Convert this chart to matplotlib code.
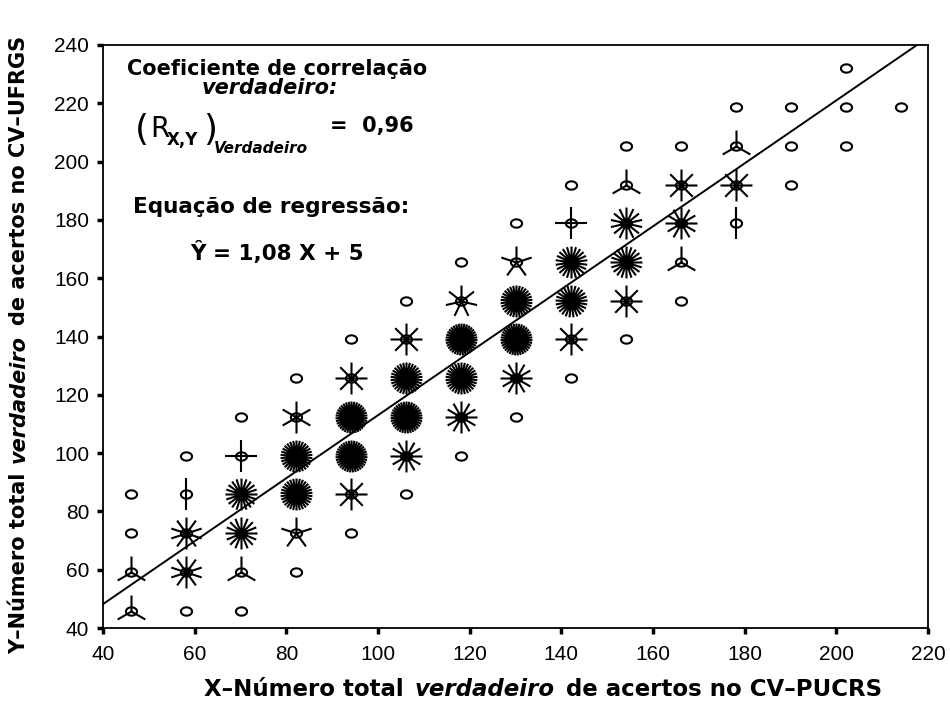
import numpy as np
import matplotlib
matplotlib.use('Agg')
import matplotlib.pyplot as plt
from matplotlib.path import Path

TICK_FONT = ['Liberation Sans', 'DejaVu Sans']
TEXT_FONT = ['DejaVu Sans']

# sunflower cells: x bin, y bin, number of cases (petals)
pt_x = [46, 46, 46, 46,
        58, 58, 58, 58, 58,
        70, 70, 70, 70, 70, 70,
        82, 82, 82, 82, 82, 82,
        94, 94, 94, 94, 94, 94,
        106, 106, 106, 106, 106, 106,
        118, 118, 118, 118, 118, 118,
        130, 130, 130, 130, 130, 130,
        142, 142, 142, 142, 142, 142,
        154, 154, 154, 154, 154, 154,
        166, 166, 166, 166, 166,
        178, 178, 178, 178,
        190, 190, 190,
        202, 202, 202,
        214]
pt_y = [46, 59.3, 72.6, 85.9,
        46, 59.3, 72.6, 85.9, 99.1,
        46, 59.3, 72.6, 85.9, 99.1, 112.4,
        59.3, 72.6, 85.9, 99.1, 112.4, 125.7,
        72.6, 85.9, 99.1, 112.4, 125.7, 139,
        85.9, 99.1, 112.4, 125.7, 139, 152.3,
        99.1, 112.4, 125.7, 139, 152.3, 165.6,
        112.4, 125.7, 139, 152.3, 165.6, 178.9,
        125.7, 139, 152.3, 165.6, 178.9, 192.1,
        139, 152.3, 165.6, 178.9, 192.1, 205.4,
        152.3, 165.6, 178.9, 192.1, 205.4,
        178.9, 192.1, 205.4, 218.7,
        192.1, 205.4, 218.7,
        205.4, 218.7, 232,
        218.7]
pt_n = [3, 3, 1, 1,
        1, 10, 10, 2, 1,
        1, 3, 16, 20, 4, 1,
        1, 5, 30, 30, 6, 1,
        1, 8, 35, 35, 8, 1,
        1, 12, 35, 30, 8, 1,
        1, 12, 30, 35, 7, 1,
        1, 12, 35, 30, 5, 1,
        1, 8, 25, 22, 4, 1,
        1, 8, 20, 14, 3, 1,
        1, 3, 12, 8, 1,
        2, 8, 3, 1,
        1, 1, 1,
        1, 1, 1,
        1]

slope, intercept = 1.08, 5
x_ticks = [40, 60, 80, 100, 120, 140, 160, 180, 200, 220]
y_ticks = [40, 60, 80, 100, 120, 140, 160, 180, 200, 220, 240]

W, H = 950, 706
fig = plt.figure(figsize=(W / 100, H / 100), dpi=100)
ax = fig.add_axes([103 / W, 1 - 628 / H, 825 / W, 583 / H])


def petals(n):
    verts, codes = [], []
    for k in range(n):
        a = np.pi / 2 + 2 * np.pi * k / n
        verts += [(0, 0), (np.cos(a), np.sin(a))]
        codes += [Path.MOVETO, Path.LINETO]
    return Path(verts, codes)


t = np.linspace(0, 2 * np.pi, 41)
ring = Path(np.column_stack([np.cos(t), 0.75 * np.sin(t)]), closed=True)

xa, ya, na = np.array(pt_x), np.array(pt_y), np.array(pt_n)
for n in sorted(set(pt_n)):
    if n < 2:
        continue
    m = na == n
    ax.plot(xa[m], ya[m], ls='none', marker=petals(n), ms=23,
            mew=1.5, mec='black', mfc='none')
ax.plot(xa, ya, ls='none', marker=ring, ms=8, mew=1.5, mec='black', mfc='none')

xl = np.array([40, 220])
ax.plot(xl, slope * xl + intercept, color='black', lw=1.4)

ax.set_xlim(40, 220)
ax.set_ylim(40, 240)
ax.set_xticks(x_ticks)
ax.set_yticks(y_ticks)
ax.tick_params(direction='out', length=4, width=2.5, labelsize=15)
ax.tick_params(axis='x', pad=8)
ax.tick_params(axis='y', pad=6)
for lab in ax.get_xticklabels() + ax.get_yticklabels():
    lab.set_family(TICK_FONT)
for s in ax.spines.values():
    s.set_linewidth(1.3)

renderer = fig.canvas.get_renderer()


def ftext(x, y, s, size, italic=False, bold=True, **kw):
    return fig.text(x / W, 1 - y / H, s, fontsize=size, family=TEXT_FONT,
                    fontweight='bold' if bold else 'normal',
                    fontstyle='italic' if italic else 'normal',
                    va='baseline', ha='left', **kw)


def runs_text(runs, cx, cy, size, gap, rotation=0):
    # text made of bold / bold-italic pieces, centred on (cx, cy) in pixels
    texts = [ftext(0, 0, s, size, italic=it, rotation=rotation,
                   rotation_mode='anchor') for s, it in runs]
    lens = []
    for tx in texts:
        bb = tx.get_window_extent(renderer)
        lens.append(bb.width if rotation == 0 else bb.height)
    total = sum(lens) + gap * (len(runs) - 1)
    pos = -total / 2
    for tx, ln in zip(texts, lens):
        if rotation == 0:
            tx.set_position(((cx + pos) / W, 1 - cy / H))
        else:
            tx.set_position((cx / W, 1 - (cy - pos) / H))
        pos += ln + gap


runs_text([('X–Número total', False), ('verdadeiro', True),
           ('de acertos no CV–PUCRS', False)], 543, 696, 16.5, 11)
runs_text([('Y–Número total', False), ('verdadeiro', True),
           ('de acertos no CV–UFRGS', False)], 25, 345, 15, 10, rotation=90)

# annotation block
ftext(127, 75, 'Coeficiente de correlação', 15)
ftext(202, 94, 'verdadeiro:', 15, italic=True)
ftext(135, 140, '(', 26, bold=False)
ftext(150, 137, 'R', 20, bold=False)
ftext(167, 145, 'X,Y', 12)
ftext(203, 140, ')', 26, bold=False)
ftext(214, 153, 'Verdadeiro', 11, italic=True)
ftext(330, 132, '=  0,96', 15)
ftext(133, 213, 'Equação de regressão:', 15.5)
ftext(190, 260, 'Ŷ = 1,08 X + 5', 15.5)

fig.savefig('out.png', dpi=100)
